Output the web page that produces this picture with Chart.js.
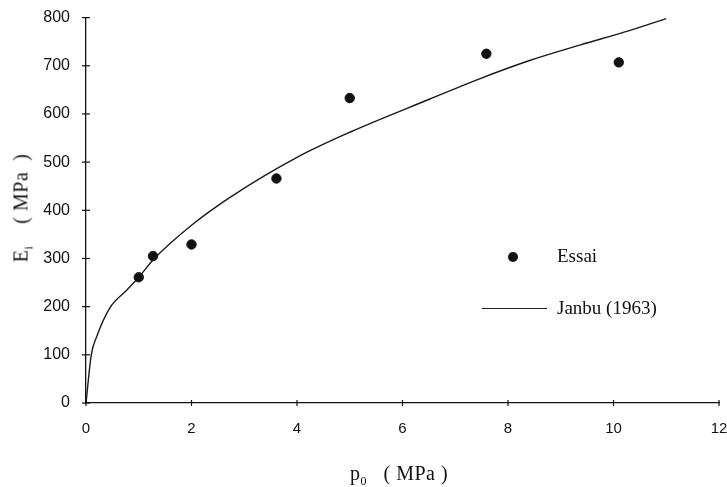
<!DOCTYPE html>
<html>
<head>
<meta charset="utf-8">
<script src="https://cdn.jsdelivr.net/npm/chart.js@4/dist/chart.umd.min.js"></script>
<style>
    html, body { margin: 0; padding: 0; background: #fff; overflow: hidden; }
    #wrap { position: relative; width: 727px; height: 487px; }
    .serif { position: absolute; font-family: "Liberation Serif", "DejaVu Serif", serif; font-size: 19px; color: #111; white-space: nowrap; }
    #ytitle { left: 23px; top: 208px; font-size: 20px; letter-spacing: 0.5px; transform: translate(-50%, -50%) rotate(-90deg); }
    #xtitle { left: 350px; top: 462px; font-size: 20px; letter-spacing: 0.5px; }
    sub { font-size: 12px; }
    #legDot { position: absolute; left: 508px; top: 252px; width: 10px; height: 10px; border-radius: 50%; background: #111; }
    #legLine { position: absolute; left: 482px; top: 308px; width: 65px; height: 0; border-top: 1.5px solid #222; }
</style>
</head>
<body>
<div id="wrap">
    <canvas id="chart" width="727" height="487"></canvas>
    <div class="serif" id="ytitle">E<sub>i</sub>&nbsp;&nbsp;&nbsp; ( MPa&nbsp; )</div>
    <div class="serif" id="xtitle">p<sub>0</sub>&nbsp;&nbsp; ( MPa )</div>
    <div id="legDot"></div>
    <div class="serif" style="left:557px; top:245px;">Essai</div>
    <div id="legLine"></div>
    <div class="serif" style="left:557px; top:297px;">Janbu (1963)</div>
</div>
<script>
// points d'essai
const essaiP = [1.0, 1.27, 2.0, 3.61, 5.0, 7.59, 10.1];
const essaiE = [261, 305, 329, 466, 633, 725, 707];

// courbe Janbu (1963)
const janbuP = [0, 0.1, 0.2, 0.45, 0.77, 1.0, 1.27, 2.0, 2.73, 4.0, 5.0, 6.52, 7.46, 8.41, 9.36, 10.3, 11.0];
const janbuE = [0, 100, 137, 197, 234, 261, 297, 369, 427, 510, 562, 631, 673, 711, 743, 773, 798];

const xMin = 0, xMax = 12, xStep = 2;
const yMin = 0, yMax = 800, yStep = 100;

// petites graduations qui traversent les axes
const crossTicks = {
    id: 'crossTicks',
    afterDraw(chart) {
        const ctx = chart.ctx;
        const xs = chart.scales.x, ys = chart.scales.y;
        ctx.save();
        ctx.strokeStyle = '#111';
        ctx.lineWidth = 1.2;
        ys.ticks.forEach(t => {
            const py = ys.getPixelForValue(t.value);
            ctx.beginPath();
            ctx.moveTo(xs.left - 4, py);
            ctx.lineTo(xs.left + 4, py);
            ctx.stroke();
        });
        xs.ticks.forEach(t => {
            const px = xs.getPixelForValue(t.value);
            ctx.beginPath();
            ctx.moveTo(px, ys.bottom - 3);
            ctx.lineTo(px, ys.bottom + 3);
            ctx.stroke();
        });
        ctx.restore();
    }
};

const ctx = document.getElementById('chart').getContext('2d');
new Chart(ctx, {
    type: 'scatter',
    data: {
        datasets: [{
            label: 'Essai',
            data: essaiP.map((p, i) => ({ x: p, y: essaiE[i] })),
            backgroundColor: '#111',
            borderColor: '#111',
            pointRadius: 4.7,
            pointHoverRadius: 4.7
        }, {
            label: 'Janbu (1963)',
            data: janbuP.map((p, i) => ({ x: p, y: janbuE[i] })),
            showLine: true,
            borderColor: '#1a1a1a',
            borderWidth: 1.4,
            pointRadius: 0,
            cubicInterpolationMode: 'monotone'
        }]
    },
    options: {
        responsive: false,
        animation: false,
        layout: { padding: { top: 17, right: 0, left: 0, bottom: 0 } },
        plugins: { legend: { display: false }, tooltip: { enabled: false } },
        scales: {
            x: {
                type: 'linear',
                min: xMin, max: xMax,
                afterFit: s => { s.height = 84; s.paddingRight = 8; },
                grid: { display: false },
                border: { display: true, color: '#111', width: 1.3 },
                ticks: {
                    stepSize: xStep,
                    padding: 9,
                    color: '#111',
                    font: { family: 'Liberation Sans', size: 15 }
                }
            },
            y: {
                min: yMin, max: yMax,
                afterFit: s => { s.width = 86; },
                grid: { display: false },
                border: { display: true, color: '#111', width: 1.3 },
                ticks: {
                    stepSize: yStep,
                    padding: 8,
                    color: '#111',
                    font: { family: 'Liberation Sans', size: 16 }
                }
            }
        }
    },
    plugins: [crossTicks]
});
</script>
</body>
</html>
